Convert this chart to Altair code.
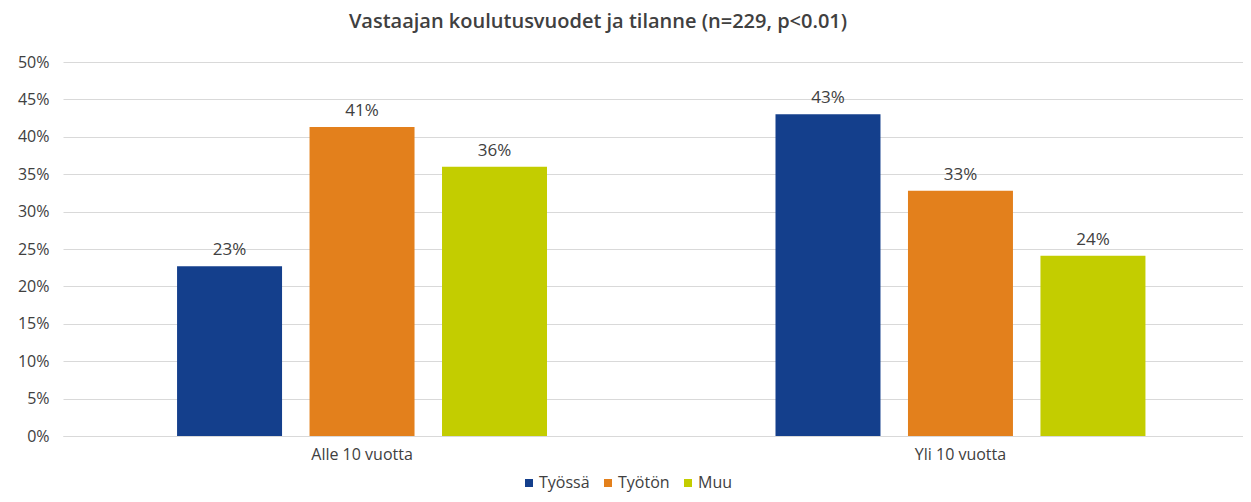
import altair as alt
import pandas as pd

categories = ["Alle 10 vuotta", "Yli 10 vuotta"]
series = ["Työssä", "Työtön", "Muu"]
tyossa = [0.227, 0.430]
tyoton = [0.413, 0.328]
muu = [0.360, 0.241]
colors = ["#143F8C", "#E3801C", "#C3CD00"]
y_ticks = [0, 0.05, 0.10, 0.15, 0.20, 0.25, 0.30, 0.35, 0.40, 0.45, 0.50]

rows = []
for s, vals in zip(series, [tyossa, tyoton, muu]):
    for c, v in zip(categories, vals):
        rows.append({"cat": c, "series": s, "value": v})
df = pd.DataFrame(rows)

FONT = "Open Sans"
TXT = "#404040"

base = alt.Chart(df).encode(
    x=alt.X("cat:N", sort=categories, title=None,
            scale=alt.Scale(paddingInner=0.3818, paddingOuter=0.1768, align=0.539),
            axis=alt.Axis(labelAngle=0, labelFontSize=16, labelColor=TXT, labelFont=FONT,
                          ticks=False, domainColor="#d9d9d9", labelPadding=10)),
    xOffset=alt.XOffset("series:N", sort=series,
                        scale=alt.Scale(paddingInner=0.2075, paddingOuter=0)),
    y=alt.Y("value:Q", title=None,
            scale=alt.Scale(domain=[0, 0.5], nice=False),
            axis=alt.Axis(values=y_ticks, format=".0%", labelFontSize=16, labelColor=TXT,
                          labelFont=FONT, ticks=False, domain=False, gridColor="#d9d9d9",
                          labelPadding=14, labelOverlap=False)),
)

bars = base.mark_bar().encode(
    color=alt.Color("series:N", sort=series, title=None,
                    scale=alt.Scale(domain=series, range=colors),
                    legend=alt.Legend(orient="none", legendX=458, legendY=413,
                                      direction="horizontal", symbolType="square",
                                      symbolSize=64, symbolStrokeWidth=0, labelFontSize=16,
                                      labelColor=TXT, labelFont=FONT, columnPadding=10,
                                      labelOffset=2)),
)

labels = base.mark_text(baseline="bottom", dy=-7, fontSize=17, color=TXT, font=FONT).encode(
    text=alt.Text("value:Q", format=".0%"),
)

chart = (bars + labels).properties(
    width=1180, height=374,
    autosize=alt.AutoSizeParams(type="none"),
    padding={"left": 55, "top": 54, "right": 0, "bottom": 58},
    title=alt.Title("Vastaajan koulutusvuodet ja tilanne (n=229, p<0.01)",
                    fontSize=20, fontWeight=600, color=TXT, font=FONT, offset=22, dx=-55),
).configure_view(stroke=None)

chart.save("out.html", embed_options={"renderer": "svg", "actions": False})
